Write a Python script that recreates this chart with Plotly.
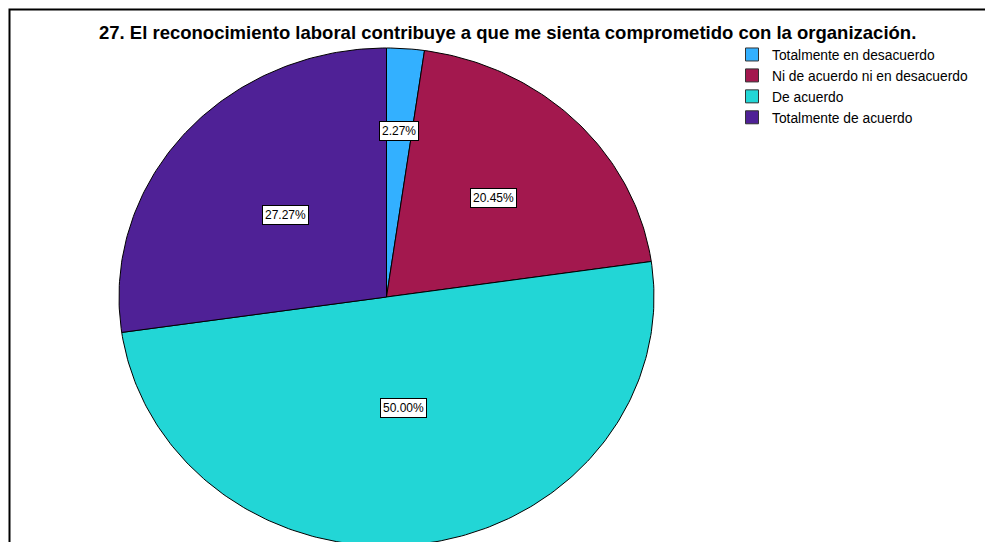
import math
import plotly.graph_objects as go

categories = ["Totalmente en desacuerdo", "Ni de acuerdo ni en desacuerdo",
              "De acuerdo", "Totalmente de acuerdo"]
percentages = [2.27, 20.45, 50.00, 27.27]
colors = ["#33B0FF", "#A3184E", "#22D6D6", "#4F2196"]
title_text = "27. El reconocimiento laboral contribuye a que me sienta comprometido con la organización."

W, H = 985, 542
# elliptical pie geometry (pixels)
CX, CY, RX, RY = 386.5, 297, 267.5, 249
label_r = [0.67, 0.565, 0.45, 0.50]

fig = go.Figure()

total = sum(percentages)
cum = 0.0
annotations = []
for cat, v, col, fr in zip(categories, percentages, colors, label_r):
    a0 = cum / total * 2 * math.pi
    a1 = (cum + v) / total * 2 * math.pi
    cum += v
    n = max(4, int(v * 4))
    xs, ys = [0.0], [0.0]
    for i in range(n + 1):
        a = a0 + (a1 - a0) * i / n
        xs.append(math.sin(a))
        ys.append(math.cos(a))
    xs.append(0.0)
    ys.append(0.0)
    fig.add_trace(go.Scatter(
        x=xs, y=ys, mode="lines", fill="toself", fillcolor=col,
        line=dict(color="black", width=1), name=cat, showlegend=False,
        hoverinfo="text", hovertext=f"{cat}: {v:.2f}%",
    ))
    mid = (a0 + a1) / 2
    annotations.append(dict(
        x=fr * math.sin(mid), y=fr * math.cos(mid), xref="x", yref="y",
        xanchor="center", yanchor="middle",
        text=f"{v:.2f}%", showarrow=False,
        font=dict(family="Liberation Sans, Arial", size=12, color="black"),
        bgcolor="white", bordercolor="black", borderwidth=1, borderpad=2,
    ))

# legend entries (square swatches)
for cat, col in zip(categories, colors):
    fig.add_trace(go.Scatter(
        x=[None], y=[None], mode="markers", name=cat,
        marker=dict(symbol="square", size=13, color=col, line=dict(color="#333333", width=1)),
        showlegend=True, hoverinfo="skip",
    ))

annotations.append(dict(
    x=507 / W, y=1 - 33 / H, xref="paper", yref="paper",
    xanchor="center", yanchor="middle",
    text=f"<b>{title_text}</b>", showarrow=False,
    font=dict(family="Liberation Sans, Arial", size=18.5, color="black"),
))

fig.update_layout(
    width=W, height=H,
    margin=dict(l=0, r=0, t=0, b=0),
    paper_bgcolor="white", plot_bgcolor="white",
    xaxis=dict(range=[-CX / RX, (W - CX) / RX], visible=False, fixedrange=True),
    yaxis=dict(range=[-(H - CY) / RY, CY / RY], visible=False, fixedrange=True),
    annotations=annotations,
    showlegend=True,
    legend=dict(
        x=732 / W, y=1 - 39 / H, xanchor="left", yanchor="top",
        font=dict(family="Liberation Sans, Arial", size=13.8, color="black"),
        tracegroupgap=0, itemwidth=30, traceorder="normal",
        bgcolor="rgba(0,0,0,0)",
    ),
    shapes=[dict(
        type="path", xref="paper", yref="paper",
        path=f"M {9.5 / W} 0 L {9.5 / W} {1 - 9.5 / H} L 1 {1 - 9.5 / H}",
        line=dict(color="black", width=2),
    )],
)

fig.write_html("out.html")
